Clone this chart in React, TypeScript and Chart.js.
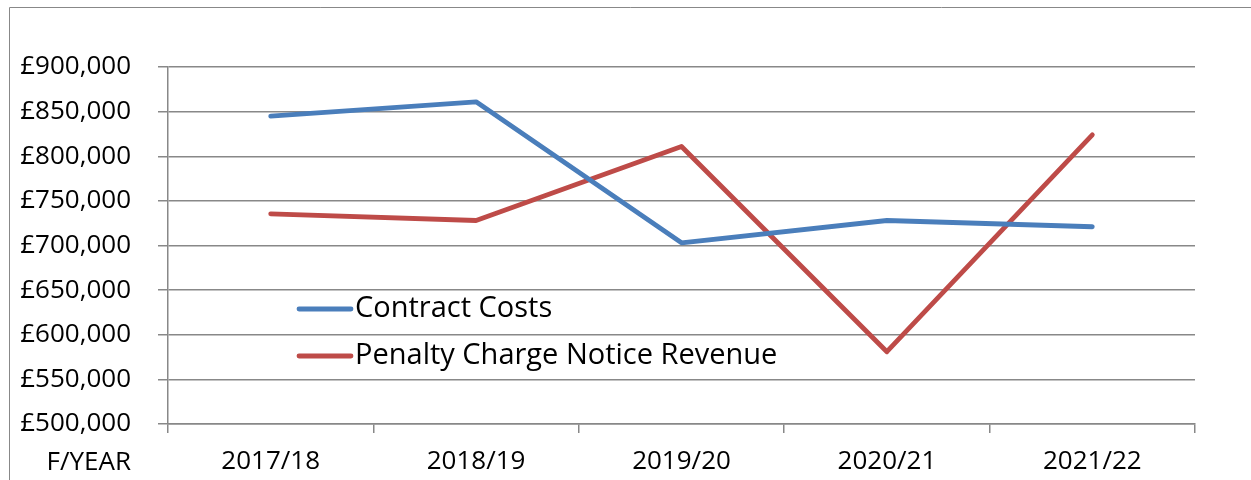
import React, { useEffect, useRef } from "react";
import { Chart, registerables } from "chart.js";

Chart.register(...registerables);

const categories = ["2017/18", "2018/19", "2019/20", "2020/21", "2021/22"];
const contractCosts = [845000, 861000, 703000, 728000, 721000];
const pcnRevenue = [735500, 728000, 811000, 581000, 824000];
const seriesNames = ["Contract Costs", "Penalty Charge Notice Revenue"];
const seriesColors = ["#4A7EBB", "#BE4B48"];
const xAxisLabel = "F/YEAR";

const FONT = "'Open Sans', 'Noto Sans', sans-serif";
const GRID = "#888888";

const overlayPlugin = {
  id: "overlay",
  afterDraw(chart: any) {
    const ctx = chart.ctx;
    ctx.save();
    // frame
    ctx.strokeStyle = GRID;
    ctx.lineWidth = 1;
    ctx.beginPath();
    ctx.moveTo(9.5, 490);
    ctx.lineTo(9.5, 7.5);
    ctx.lineTo(1260, 7.5);
    ctx.stroke();
    // legend
    ctx.textBaseline = "middle";
    ctx.textAlign = "left";
    const rows = [309, 356];
    chart.data.datasets.forEach((ds: any, i: number) => {
      const y = rows[i];
      ctx.strokeStyle = ds.borderColor;
      ctx.lineWidth = 4.8;
      ctx.lineCap = "round";
      ctx.beginPath();
      ctx.moveTo(299, y);
      ctx.lineTo(351, y);
      ctx.stroke();
      ctx.fillStyle = "#000";
      ctx.font = `29px ${FONT}`;
      ctx.fillText(ds.label, 355, y);
    });
    // x axis title at left
    ctx.font = `26px ${FONT}`;
    ctx.textAlign = "right";
    ctx.fillText(xAxisLabel, 131, 463);
    ctx.restore();
  },
};

export default function App() {
  const ref = useRef<HTMLCanvasElement>(null);
  useEffect(() => {
    document.body.style.margin = "0";
    const chart = new Chart(ref.current!, {
      type: "line",
      data: {
        labels: categories,
        datasets: [
          {
            label: seriesNames[0],
            data: contractCosts,
            borderColor: seriesColors[0],
            backgroundColor: seriesColors[0],
            borderWidth: 4.8,
            pointRadius: 0,
            tension: 0,
            borderCapStyle: "round",
            borderJoinStyle: "round",
          },
          {
            label: seriesNames[1],
            data: pcnRevenue,
            borderColor: seriesColors[1],
            backgroundColor: seriesColors[1],
            borderWidth: 4.8,
            pointRadius: 0,
            tension: 0,
            borderCapStyle: "round",
            borderJoinStyle: "round",
          },
        ],
      },
      options: {
        animation: false,
        responsive: false,
        layout: { padding: { left: 0, top: 67, right: 56, bottom: 0 } },
        plugins: {
          legend: { display: false },
          tooltip: { enabled: false },
        },
        scales: {
          x: {
            offset: true,
            grid: {
              offset: true,
              drawOnChartArea: false,
              drawTicks: true,
              tickLength: 9,
              color: GRID,
              lineWidth: 1.5,
            },
            border: { display: true, color: GRID, width: 1.5 },
            ticks: {
              color: "#000",
              font: { family: FONT, size: 26 },
              padding: 13,
              maxRotation: 0,
              autoSkip: false,
            },
            afterFit(scale: any) {
              scale.height = 56;
            },
          },
          y: {
            min: 500000,
            max: 900000,
            grid: {
              color: GRID,
              lineWidth: 1.5,
              drawTicks: true,
              tickLength: 10,
            },
            border: { display: true, color: GRID, width: 1.5 },
            ticks: {
              stepSize: 50000,
              color: "#000",
              font: { family: FONT, size: 26 },
              padding: 27,
              callback: (v: any) => "£" + Number(v).toLocaleString("en-GB"),
            },
            afterFit(scale: any) {
              scale.width = 168;
            },
          },
        },
      },
      plugins: [overlayPlugin],
    });
    return () => chart.destroy();
  }, []);
  return <canvas ref={ref} width={1251} height={480} style={{ display: "block" }} />;
}
